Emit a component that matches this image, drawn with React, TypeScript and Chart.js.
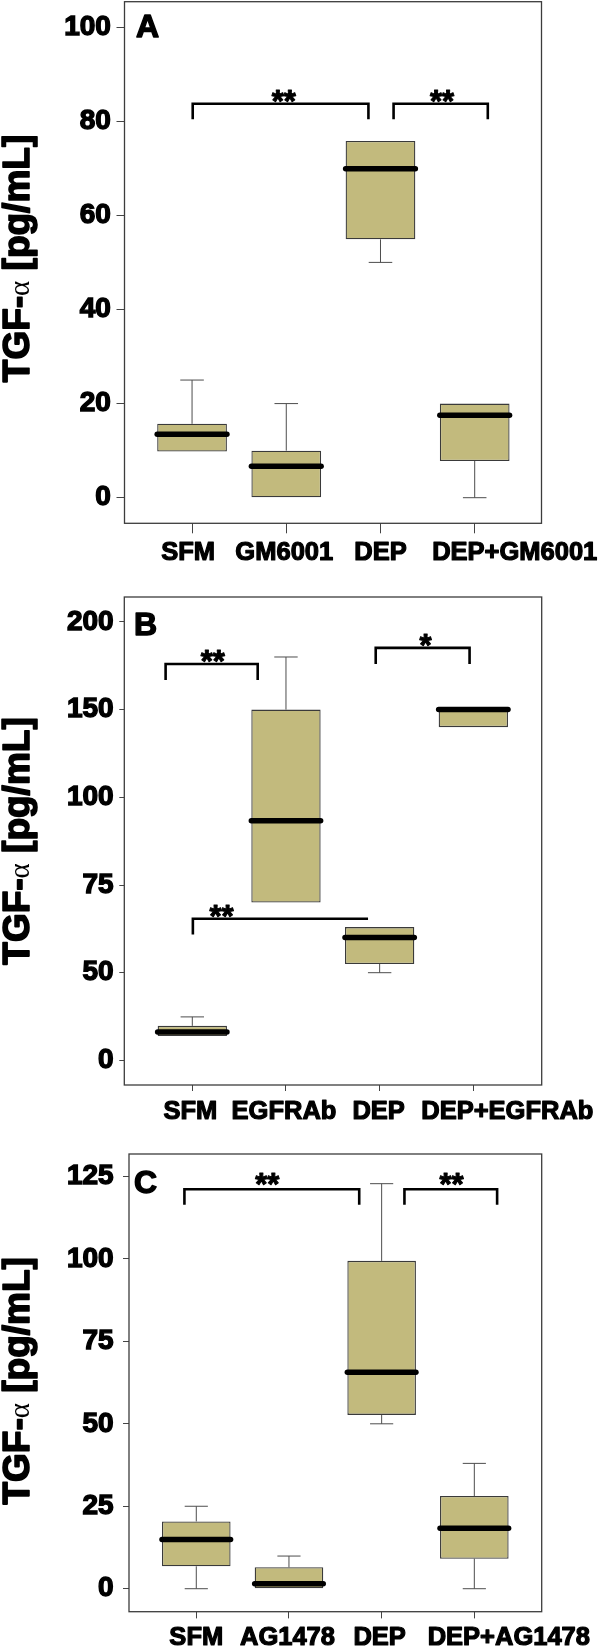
import React, { useEffect, useRef } from "react";
import { Chart, registerables } from "chart.js";

Chart.register(...registerables);

const SANS = '"Liberation Sans", Arial, Helvetica, sans-serif';
const SERIF = '"Liberation Serif", "DejaVu Serif", serif';
Chart.defaults.font.family = SANS;

const BOX_FILL = "#C2BA7D";
const BOX_WIDTH = 0.74; // fraction of category spacing
const CAP_WIDTH = 0.25;

// ---------- Panel A ----------
const categoriesA = ["SFM", "GM6001", "DEP", "DEP+GM6001"];
const lowA = [9.8, 0, 50, 0];
const q1A = [9.8, 0, 54.9, 7.8];
const medianA = [13.5, 6.7, 69.9, 17.5];
const q3A = [15.7, 10, 75.8, 20];
const highA = [25, 20, 75.8, 20];
const yTicksA = [0, 20, 40, 60, 80, 100];
const sigA = [
  { x1: 1.007, x2: 2.872, top: 83.7, leg1: 80.4, leg2: 80.4, label: "**", lx: 1.973, ly: 85.75 },
  { x1: 3.139, x2: 4.139, top: 83.7, leg1: 80.4, leg2: 80.4, label: "**", lx: 3.654, ly: 85.75 },
];

// ---------- Panel B ----------
const categoriesB = ["SFM", "EGFRAb", "DEP", "DEP+EGFRAb"];
const lowB = [13.9, 70, 50, 140];
const q1B = [13.9, 70, 52.5, 140];
const medianB = [16.2, 93.3, 60, 150];
const q3B = [19.7, 150, 63, 150];
const highB = [24.8, 180, 63, 150];
const yTicksB = [0, 50, 75, 100, 150, 200];
const sigB = [
  { x1: 0.715, x2: 1.698, top: 176, leg1: 166.9, leg2: 166.9, label: "**", lx: 1.219, ly: 181.9 },
  { x1: 2.958, x2: 3.96, top: 185.2, leg1: 176, leg2: 176, label: "*", lx: 3.49, ly: 190.7 },
  { x1: 1.006, x2: 2.876, top: 65.4, leg1: 60.9, leg2: null, label: "**", lx: 1.313, ly: 68.2 },
];

// ---------- Panel C ----------
const categoriesC = ["SFM", "AG1478", "DEP", "DEP+AG1478"];
const lowC = [0, 0, 50, 0];
const q1C = [6.8, 0, 52.7, 9.1];
const medianC = [14.9, 1.5, 65.6, 18.3];
const q3C = [20.4, 6.5, 99.4, 28.1];
const highC = [25, 9.9, 122.8, 38];
const yTicksC = [0, 25, 50, 75, 100, 125];
const sigC = [
  { x1: 0.872, x2: 2.758, top: 121.1, leg1: 116.4, leg2: 116.4, label: "**", lx: 1.766, ly: 124.8 },
  { x1: 3.246, x2: 4.246, top: 121.1, leg1: 116.4, leg2: 116.4, label: "**", lx: 3.755, ly: 124.8 },
];

const identity = (v: number) => v;
// piecewise axis: tick values equally spaced (as in panel B)
function brokenAxis(ticks: number[]) {
  return (v: number) => {
    for (let i = 0; i < ticks.length - 1; i++) {
      if (v <= ticks[i + 1] || i === ticks.length - 2) {
        return i + (v - ticks[i]) / (ticks[i + 1] - ticks[i]);
      }
    }
    return 0;
  };
}

const panels = [
  {
    letter: "A", top: 0, height: 580,
    cats: categoriesA, low: lowA, q1: q1A, med: medianA, q3: q3A, high: highA,
    yTicks: yTicksA, broken: false, sig: sigA,
    area: { left: 124.5, right: 541.5, top: 1.7, bottom: 523.3 },
    yRange: [-5.44, 105.4], xRange: [0.283, 4.709],
    yTickLen: 8, yPad: 5.6, xTickLen: 10, labelBase: 36.7, labelShift: [-4, -2, 0, 40],
    letterX: 136, letterBase: 36.7, titleX: 28.5, titleShift: -4,
  },
  {
    letter: "B", top: 580, height: 545,
    cats: categoriesB, low: lowB, q1: q1B, med: medianB, q3: q3B, high: highB,
    yTicks: yTicksB, broken: true, sig: sigB,
    area: { left: 124.3, right: 541.7, top: 17, bottom: 505 },
    yRange: [-0.2805, 5.284], xRange: [0.274, 4.73],
    yTickLen: 5, yPad: 5.7, xTickLen: 6, labelBase: 34.3, labelShift: [-2, -2, -1, 34],
    letterX: 134, letterBase: 54.6, titleX: 28.5, titleShift: 0,
  },
  {
    letter: "C", top: 1125, height: 522,
    cats: categoriesC, low: lowC, q1: q1C, med: medianC, q3: q3C, high: highC,
    yTicks: yTicksC, broken: false, sig: sigC,
    area: { left: 129, right: 541.7, top: 29, bottom: 486.7 },
    yRange: [-6.97, 131.8], xRange: [0.274, 4.727],
    yTickLen: 6, yPad: 9.4, xTickLen: 6.7, labelBase: 33.3, labelShift: [0, -1.5, -2, 34.5],
    letterX: 134, letterBase: 68, titleX: 28.5, titleShift: -2,
  },
];

function heavyText(ctx: CanvasRenderingContext2D, t: string, x: number, y: number, sw: number) {
  ctx.lineWidth = sw;
  ctx.lineJoin = "round";
  ctx.strokeStyle = "#000";
  ctx.strokeText(t, x, y);
  ctx.fillText(t, x, y);
}

function makeExtras(p: any, toAxis: (v: number) => number) {
  return {
    id: "boxExtras" + p.letter,
    beforeDatasetsDraw(chart: any) {
      const ctx = chart.ctx;
      const xs = chart.scales.x;
      const ys = chart.scales.y;
      const unit = xs.getPixelForValue(2) - xs.getPixelForValue(1);
      const cap = (unit * CAP_WIDTH) / 2;
      ctx.save();
      ctx.strokeStyle = "#4d4d4d";
      ctx.lineWidth = 1;
      p.cats.forEach((_: string, i: number) => {
        const x = xs.getPixelForValue(i + 1);
        const seg = (a: number, b: number) => {
          const ya = ys.getPixelForValue(toAxis(a));
          const yb = ys.getPixelForValue(toAxis(b));
          ctx.beginPath();
          ctx.moveTo(x, ya);
          ctx.lineTo(x, yb);
          ctx.moveTo(x - cap, yb);
          ctx.lineTo(x + cap, yb);
          ctx.stroke();
        };
        if (p.high[i] > p.q3[i]) seg(p.q3[i], p.high[i]);
        if (p.low[i] < p.q1[i]) seg(p.q1[i], p.low[i]);
      });
      ctx.restore();
    },
    afterDatasetsDraw(chart: any) {
      const ctx = chart.ctx;
      const xs = chart.scales.x;
      const ys = chart.scales.y;
      const ca = chart.chartArea;
      const unit = xs.getPixelForValue(2) - xs.getPixelForValue(1);
      const half = (unit * BOX_WIDTH) / 2;
      ctx.save();
      // medians
      ctx.strokeStyle = "#000";
      ctx.lineWidth = 5.5;
      ctx.lineCap = "round";
      p.cats.forEach((_: string, i: number) => {
        const x = xs.getPixelForValue(i + 1);
        const y = ys.getPixelForValue(toAxis(p.med[i]));
        ctx.beginPath();
        ctx.moveTo(x - half, y);
        ctx.lineTo(x + half, y);
        ctx.stroke();
      });
      // significance brackets
      ctx.lineCap = "butt";
      ctx.fillStyle = "#000";
      p.sig.forEach((s: any) => {
        const x1 = xs.getPixelForValue(s.x1);
        const x2 = xs.getPixelForValue(s.x2);
        const yt = ys.getPixelForValue(toAxis(s.top));
        ctx.lineWidth = 2.6;
        ctx.lineJoin = "miter";
        ctx.strokeStyle = "#000";
        ctx.beginPath();
        ctx.moveTo(x1, ys.getPixelForValue(toAxis(s.leg1)));
        ctx.lineTo(x1, yt);
        ctx.lineTo(x2, yt);
        if (s.leg2 !== null) ctx.lineTo(x2, ys.getPixelForValue(toAxis(s.leg2)));
        ctx.stroke();
        ctx.font = `bold 31px ${SANS}`;
        ctx.textAlign = "center";
        ctx.textBaseline = "alphabetic";
        heavyText(ctx, s.label, xs.getPixelForValue(s.lx), ys.getPixelForValue(toAxis(s.ly)) + 18, 1);
      });
      // frame
      ctx.strokeStyle = "#3c3c3c";
      ctx.lineWidth = 1.3;
      ctx.lineJoin = "miter";
      ctx.strokeRect(ca.left, ca.top, ca.right - ca.left, ca.bottom - ca.top);
      // panel letter
      ctx.font = `bold 32px ${SANS}`;
      ctx.textAlign = "left";
      heavyText(ctx, p.letter, p.letterX, p.letterBase, 1.4);
      // x category labels
      ctx.font = `bold 25.5px ${SANS}`;
      ctx.textAlign = "center";
      p.cats.forEach((c: string, i: number) => {
        heavyText(ctx, c, xs.getPixelForValue(i + 1) + p.labelShift[i], ca.bottom + p.labelBase, 1.2);
      });
      // y axis title
      const cy = (ca.top + ca.bottom) / 2 + p.titleShift;
      const parts = [
        { t: "TGF-", f: `bold 37px ${SANS}`, sw: 1.6 },
        { t: "\u03B1", f: `29px ${SERIF}`, sw: 0 },
        { t: " [pg/mL]", f: `bold 37px ${SANS}`, sw: 1.6 },
      ];
      let total = 0;
      const widths = parts.map((pt) => {
        ctx.font = pt.f;
        const w = ctx.measureText(pt.t).width;
        total += w;
        return w;
      });
      ctx.translate(p.titleX, cy);
      ctx.rotate(-Math.PI / 2);
      ctx.textAlign = "left";
      let tx = -total / 2;
      parts.forEach((pt, k) => {
        ctx.font = pt.f;
        if (pt.sw > 0) heavyText(ctx, pt.t, tx, 0, pt.sw);
        else ctx.fillText(pt.t, tx, 0);
        tx += widths[k];
      });
      ctx.restore();
    },
  };
}

function Panel({ p }: { p: any }) {
  const ref = useRef<HTMLCanvasElement | null>(null);
  useEffect(() => {
    const canvas = ref.current;
    if (!canvas) return;
    const toAxis = p.broken ? brokenAxis(p.yTicks) : identity;
    const tickPositions = p.yTicks.map((v: number) => toAxis(v));
    const W = 600;
    const chart = new Chart(canvas, {
      type: "bar",
      data: {
        datasets: [
          {
            data: p.cats.map((_: string, i: number) => ({ x: i + 1, y: [toAxis(p.q1[i]), toAxis(p.q3[i])] })),
            backgroundColor: BOX_FILL,
            borderColor: "#3a3a3a",
            borderWidth: 1.3,
            borderSkipped: false,
            barPercentage: BOX_WIDTH,
            categoryPercentage: 1,
          } as any,
        ],
      },
      options: {
        animation: false,
        responsive: false,
        devicePixelRatio: 1,
        events: [],
        layout: {
          padding: { left: 0, right: W - p.area.right, top: p.area.top, bottom: 0 },
        },
        plugins: {
          legend: { display: false },
          tooltip: { enabled: false },
          title: { display: false },
        },
        scales: {
          x: {
            type: "linear",
            offset: false,
            min: p.xRange[0],
            max: p.xRange[1],
            afterBuildTicks: (s: any) => {
              s.ticks = p.cats.map((_: string, i: number) => ({ value: i + 1 }));
            },
            ticks: { display: false },
            grid: {
              display: true,
              offset: false,
              drawOnChartArea: false,
              drawTicks: true,
              tickLength: p.xTickLen,
              color: "#444",
              lineWidth: 1,
            },
            border: { display: false },
            afterFit: (s: any) => {
              s.height = p.height - p.area.bottom;
              s.paddingLeft = 0;
              s.paddingRight = 0;
              s.paddingTop = 0;
              s.paddingBottom = 0;
            },
          },
          y: {
            type: "linear",
            min: p.yRange[0],
            max: p.yRange[1],
            beginAtZero: false,
            afterBuildTicks: (s: any) => {
              s.ticks = tickPositions.map((v: number) => ({ value: v }));
            },
            ticks: {
              callback: (_v: any, i: number) => String(p.yTicks[i]),
              font: { family: SANS, size: 28, weight: "bold" },
              color: "#000",
              textStrokeColor: "#000",
              textStrokeWidth: 1.4,
              padding: p.yPad,
            },
            grid: {
              display: true,
              offset: false,
              drawOnChartArea: false,
              drawTicks: true,
              tickLength: p.yTickLen,
              color: "#444",
              lineWidth: 1,
            },
            border: { display: false },
            afterFit: (s: any) => {
              s.width = p.area.left;
              s.paddingLeft = 0;
              s.paddingRight = 0;
              s.paddingTop = 0;
              s.paddingBottom = 0;
            },
          },
        },
      } as any,
      plugins: [makeExtras(p, toAxis)],
    });
    return () => chart.destroy();
  }, [p]);
  return (
    <canvas
      ref={ref}
      width={600}
      height={p.height}
      style={{ position: "absolute", left: 0, top: p.top, width: 600, height: p.height, display: "block" }}
    />
  );
}

export default function App() {
  return (
    <div style={{ position: "absolute", left: 0, top: 0, width: 600, height: 1647, background: "#fff", overflow: "hidden" }}>
      {panels.map((p) => (
        <Panel key={p.letter} p={p} />
      ))}
    </div>
  );
}
